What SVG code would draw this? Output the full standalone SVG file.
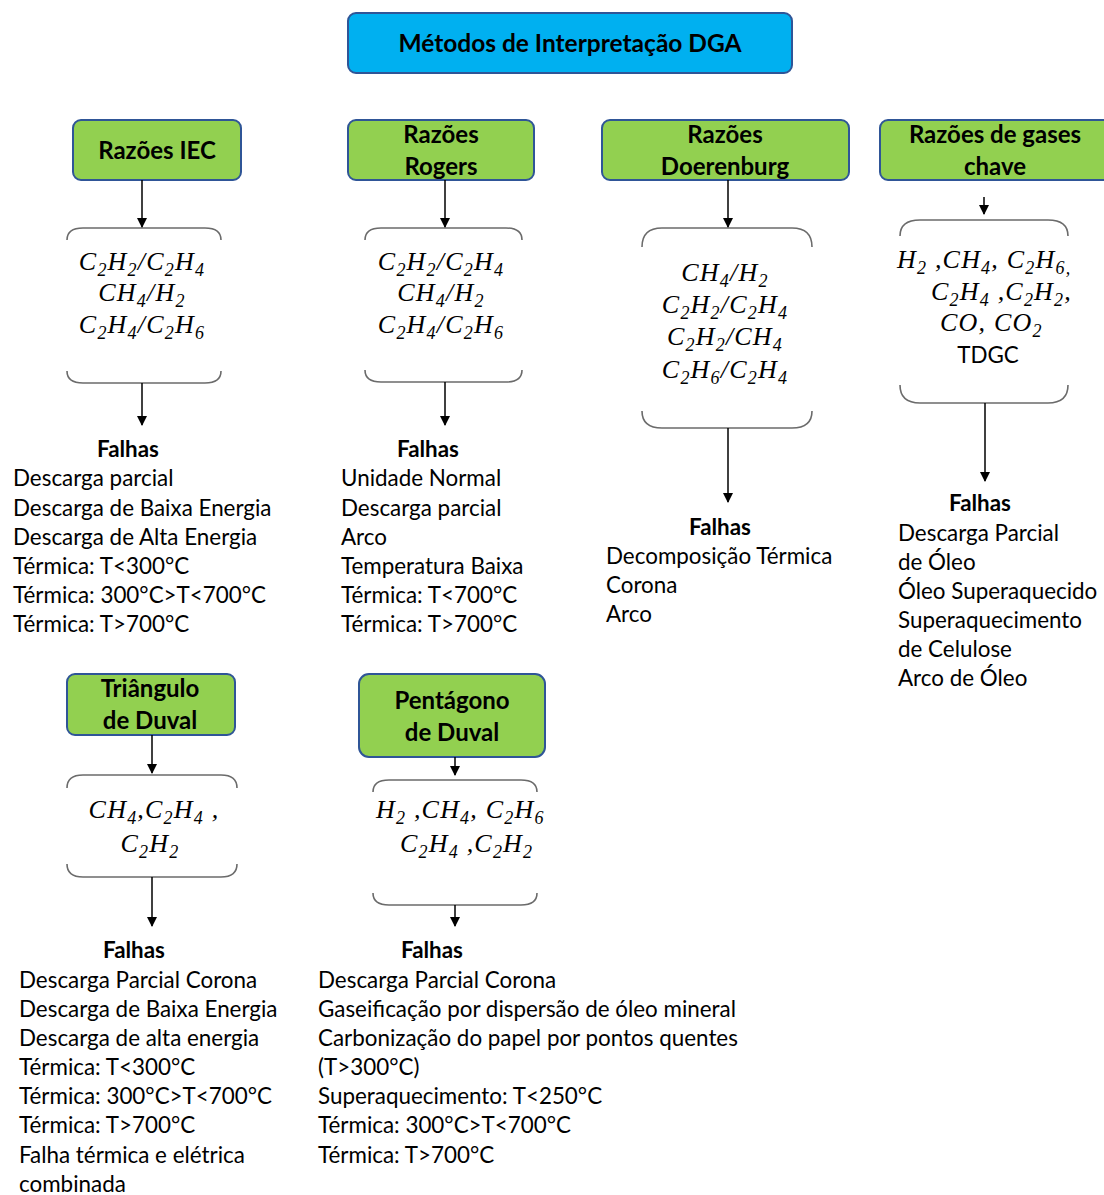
<svg xmlns="http://www.w3.org/2000/svg" width="1104" height="1195" viewBox="0 0 1104 1195">
  <style>
    .title { fill: #00B0F0; stroke: #2F5597; stroke-width: 2; }
    .method { fill: #92D050; stroke: #2F5597; stroke-width: 2; }
    .hd { font-family: Lato, "Liberation Sans", sans-serif; font-weight: bold; font-size: 24px; fill: #000; text-anchor: middle; }
    .big { font-size: 24.5px; }
    .txt { font-family: Lato, "Liberation Sans", sans-serif; font-size: 22.4px; fill: #000; }
    .fh { font-family: Lato, "Liberation Sans", sans-serif; font-weight: bold; font-size: 22.4px; fill: #000; text-anchor: middle; }
    .math { font-family: "Liberation Serif", serif; font-style: italic; font-size: 26px; letter-spacing: 1.2px; fill: #000; }
    .mid { text-anchor: middle; }
    .s { font-size: 18px; baseline-shift: -6px; }
    .brace { fill: none; stroke: #6b6b6b; stroke-width: 1.6; }
    .conn { stroke: #000; stroke-width: 1.5; fill: none; }
  </style>
  <defs>
    <marker id="ah" markerWidth="10" markerHeight="10" refX="9" refY="5" orient="auto" markerUnits="userSpaceOnUse">
      <path d="M0,0 L10,5 L0,10 Z" fill="#000"/>
    </marker>
  </defs>

  <!-- root -->
  <g id="root">
    <rect class="title" x="348" y="13" width="444" height="60" rx="8"/>
    <text class="hd big" x="570" y="52">Métodos de Interpretação DGA</text>
  </g>

  <!-- method headers -->
  <g id="iec">
    <rect class="method" x="73" y="120" width="168" height="60" rx="8"/>
    <text class="hd" x="157" y="159">Razões IEC</text>
  </g>
  <g id="rogers">
    <rect class="method" x="348" y="120" width="186" height="60" rx="8"/>
    <text class="hd" x="441" y="143">Razões</text>
    <text class="hd" x="441" y="175">Rogers</text>
  </g>
  <g id="doerenburg">
    <rect class="method" x="602" y="120" width="247" height="60" rx="8"/>
    <text class="hd" x="725" y="143">Razões</text>
    <text class="hd" x="725" y="175">Doerenburg</text>
  </g>
  <g id="gases-chave">
    <rect class="method" x="880" y="120" width="240" height="60" rx="8"/>
    <text class="hd" x="995" y="143">Razões de gases</text>
    <text class="hd" x="995" y="175">chave</text>
  </g>
  <g id="triangulo">
    <rect class="method" x="67" y="674" width="168" height="61" rx="8"/>
    <text class="hd" x="150" y="697">Triângulo</text>
    <text class="hd" x="150" y="729">de Duval</text>
  </g>
  <g id="pentagono">
    <rect class="method" x="359" y="674" width="186" height="83" rx="10"/>
    <text class="hd" x="452" y="709">Pentágono</text>
    <text class="hd" x="452" y="741">de Duval</text>
  </g>

  <!-- gas input boxes -->
  <g id="iec-gases">
    <path class="brace" d="M67,240 Q67,228 83,228 H205 Q221,228 221,240"/>
    <path class="brace" d="M67,371 Q67,383 83,383 H205 Q221,383 221,371"/>
    <text class="math mid" x="142" y="270">C<tspan class="s">2</tspan>H<tspan class="s">2</tspan>/C<tspan class="s">2</tspan>H<tspan class="s">4</tspan></text>
    <text class="math mid" x="142" y="301">CH<tspan class="s">4</tspan>/H<tspan class="s">2</tspan></text>
    <text class="math mid" x="142" y="333">C<tspan class="s">2</tspan>H<tspan class="s">4</tspan>/C<tspan class="s">2</tspan>H<tspan class="s">6</tspan></text>
  </g>
  <g id="rogers-gases">
    <path class="brace" d="M365,240 Q365,228 381,228 H506 Q522,228 522,240"/>
    <path class="brace" d="M365,370 Q365,382 381,382 H506 Q522,382 522,370"/>
    <text class="math mid" x="441" y="270">C<tspan class="s">2</tspan>H<tspan class="s">2</tspan>/C<tspan class="s">2</tspan>H<tspan class="s">4</tspan></text>
    <text class="math mid" x="441" y="301">CH<tspan class="s">4</tspan>/H<tspan class="s">2</tspan></text>
    <text class="math mid" x="441" y="333">C<tspan class="s">2</tspan>H<tspan class="s">4</tspan>/C<tspan class="s">2</tspan>H<tspan class="s">6</tspan></text>
  </g>
  <g id="doerenburg-gases">
    <path class="brace" d="M642,247 Q642,228 662,228 H792 Q812,228 812,247"/>
    <path class="brace" d="M642,411 Q642,428 662,428 H792 Q812,428 812,411"/>
    <text class="math mid" x="725" y="281">CH<tspan class="s">4</tspan>/H<tspan class="s">2</tspan></text>
    <text class="math mid" x="725" y="313">C<tspan class="s">2</tspan>H<tspan class="s">2</tspan>/C<tspan class="s">2</tspan>H<tspan class="s">4</tspan></text>
    <text class="math mid" x="725" y="345">C<tspan class="s">2</tspan>H<tspan class="s">2</tspan>/CH<tspan class="s">4</tspan></text>
    <text class="math mid" x="725" y="378">C<tspan class="s">2</tspan>H<tspan class="s">6</tspan>/C<tspan class="s">2</tspan>H<tspan class="s">4</tspan></text>
  </g>
  <g id="gases-chave-gases">
    <path class="brace" d="M900,236 Q900,220 920,220 H1048 Q1068,220 1068,236"/>
    <path class="brace" d="M900,385 Q900,403 920,403 H1048 Q1068,403 1068,385"/>
    <text class="math" x="897" y="268">H<tspan class="s">2</tspan> ,CH<tspan class="s">4</tspan>, C<tspan class="s">2</tspan>H<tspan class="s">6,</tspan></text>
    <text class="math" x="931" y="300">C<tspan class="s">2</tspan>H<tspan class="s">4</tspan> ,C<tspan class="s">2</tspan>H<tspan class="s">2</tspan>,</text>
    <text class="math" x="940" y="331">CO, CO<tspan class="s">2</tspan></text>
    <text class="txt" x="988" y="363" text-anchor="middle">TDGC</text>
  </g>
  <g id="triangulo-gases">
    <path class="brace" d="M67,788 Q67,775 83,775 H221 Q237,775 237,788"/>
    <path class="brace" d="M67,864 Q67,877 83,877 H221 Q237,877 237,864"/>
    <text class="math mid" x="154" y="818">CH<tspan class="s">4</tspan>,C<tspan class="s">2</tspan>H<tspan class="s">4</tspan> ,</text>
    <text class="math mid" x="150" y="852">C<tspan class="s">2</tspan>H<tspan class="s">2</tspan></text>
  </g>
  <g id="pentagono-gases">
    <path class="brace" d="M373,792 Q373,780 389,780 H521 Q537,780 537,792"/>
    <path class="brace" d="M373,893 Q373,905 389,905 H521 Q537,905 537,893"/>
    <text class="math" x="376" y="818">H<tspan class="s">2</tspan> ,CH<tspan class="s">4</tspan>, C<tspan class="s">2</tspan>H<tspan class="s">6</tspan></text>
    <text class="math" x="400" y="852">C<tspan class="s">2</tspan>H<tspan class="s">4</tspan> ,C<tspan class="s">2</tspan>H<tspan class="s">2</tspan></text>
  </g>

  <!-- fault lists -->
  <g id="iec-falhas">
    <text class="fh" x="128" y="457">Falhas</text>
    <text class="txt" x="13" y="486">Descarga parcial</text>
    <text class="txt" x="13" y="516">Descarga de Baixa Energia</text>
    <text class="txt" x="13" y="545">Descarga de Alta Energia</text>
    <text class="txt" x="13" y="574">Térmica: T&lt;300°C</text>
    <text class="txt" x="13" y="603">Térmica: 300°C&gt;T&lt;700°C</text>
    <text class="txt" x="13" y="632">Térmica: T&gt;700°C</text>
  </g>
  <g id="rogers-falhas">
    <text class="fh" x="428" y="457">Falhas</text>
    <text class="txt" x="341" y="486">Unidade Normal</text>
    <text class="txt" x="341" y="516">Descarga parcial</text>
    <text class="txt" x="341" y="545">Arco</text>
    <text class="txt" x="341" y="574">Temperatura Baixa</text>
    <text class="txt" x="341" y="603">Térmica: T&lt;700°C</text>
    <text class="txt" x="341" y="632">Térmica: T&gt;700°C</text>
  </g>
  <g id="doerenburg-falhas">
    <text class="fh" x="720" y="535">Falhas</text>
    <text class="txt" x="606" y="564">Decomposição Térmica</text>
    <text class="txt" x="606" y="593">Corona</text>
    <text class="txt" x="606" y="622">Arco</text>
  </g>
  <g id="gases-chave-falhas">
    <text class="fh" x="980" y="511">Falhas</text>
    <text class="txt" x="898" y="541">Descarga Parcial</text>
    <text class="txt" x="898" y="570">de Óleo</text>
    <text class="txt" x="898" y="599">Óleo Superaquecido</text>
    <text class="txt" x="898" y="628">Superaquecimento</text>
    <text class="txt" x="898" y="657">de Celulose</text>
    <text class="txt" x="898" y="686">Arco de Óleo</text>
  </g>
  <g id="triangulo-falhas">
    <text class="fh" x="134" y="958">Falhas</text>
    <text class="txt" x="19" y="988">Descarga Parcial Corona</text>
    <text class="txt" x="19" y="1017">Descarga de Baixa Energia</text>
    <text class="txt" x="19" y="1046">Descarga de alta energia</text>
    <text class="txt" x="19" y="1075">Térmica: T&lt;300°C</text>
    <text class="txt" x="19" y="1104">Térmica: 300°C&gt;T&lt;700°C</text>
    <text class="txt" x="19" y="1133">Térmica: T&gt;700°C</text>
    <text class="txt" x="19" y="1163">Falha térmica e elétrica</text>
    <text class="txt" x="19" y="1192">combinada</text>
  </g>
  <g id="pentagono-falhas">
    <text class="fh" x="432" y="958">Falhas</text>
    <text class="txt" x="318" y="988">Descarga Parcial Corona</text>
    <text class="txt" x="318" y="1017">Gaseificação por dispersão de óleo mineral</text>
    <text class="txt" x="318" y="1046">Carbonização do papel por pontos quentes</text>
    <text class="txt" x="318" y="1075">(T&gt;300°C)</text>
    <text class="txt" x="318" y="1104">Superaquecimento: T&lt;250°C</text>
    <text class="txt" x="318" y="1133">Térmica: 300°C&gt;T&lt;700°C</text>
    <text class="txt" x="318" y="1163">Térmica: T&gt;700°C</text>
  </g>

  <!-- connectors -->
  <g id="connectors">
    <line class="conn" x1="142" y1="180" x2="142" y2="227" marker-end="url(#ah)"/>
    <line class="conn" x1="142" y1="383" x2="142" y2="425" marker-end="url(#ah)"/>
    <line class="conn" x1="445" y1="180" x2="445" y2="227" marker-end="url(#ah)"/>
    <line class="conn" x1="445" y1="382" x2="445" y2="425" marker-end="url(#ah)"/>
    <line class="conn" x1="728" y1="180" x2="728" y2="227" marker-end="url(#ah)"/>
    <line class="conn" x1="728" y1="428" x2="728" y2="502" marker-end="url(#ah)"/>
    <line class="conn" x1="984" y1="197" x2="984" y2="214" marker-end="url(#ah)"/>
    <line class="conn" x1="985" y1="403" x2="985" y2="481" marker-end="url(#ah)"/>
    <line class="conn" x1="152" y1="735" x2="152" y2="773" marker-end="url(#ah)"/>
    <line class="conn" x1="152" y1="877" x2="152" y2="926" marker-end="url(#ah)"/>
    <line class="conn" x1="455" y1="757" x2="455" y2="775" marker-end="url(#ah)"/>
    <line class="conn" x1="455" y1="905" x2="455" y2="926" marker-end="url(#ah)"/>
  </g>
</svg>
